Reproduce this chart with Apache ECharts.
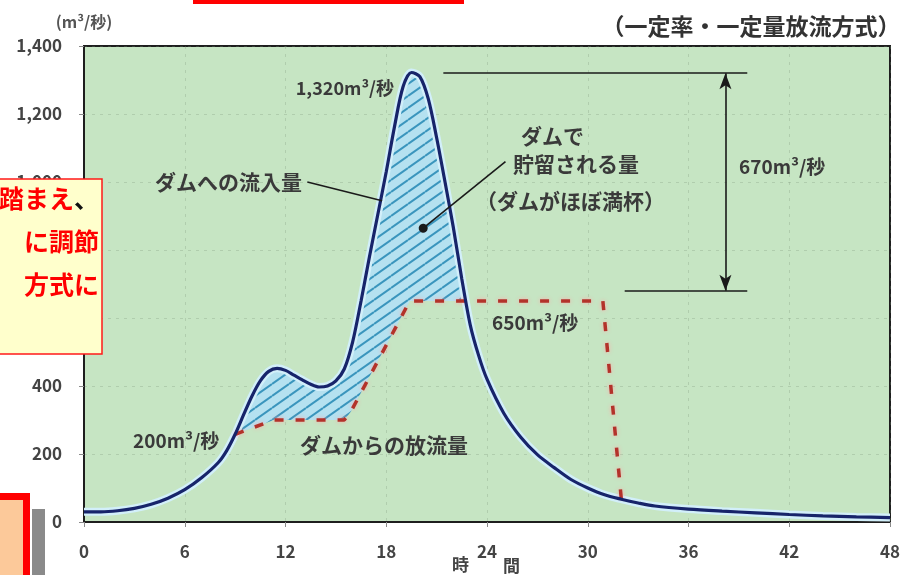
<!DOCTYPE html>
<html><head><meta charset="utf-8">
<script src="https://cdn.jsdelivr.net/npm/echarts/dist/echarts.min.js"></script>
<style>html,body{margin:0;padding:0;background:#fff}#c{width:904px;height:575px}</style>
</head><body><div id="c"></div>
<script>
// ---- data (hours, m3/s) ----
const inflowHours = [0,1,2,3,4,5,6,7,8,8.5,9,9.5,10,10.5,11,11.5,12,12.5,13,13.5,14,14.5,15,15.5,16,16.5,17,17.5,18,18.5,19,19.5,20,20.5,21,21.5,22,22.5,23,23.5,24,25,26,27,28,29,30,31,32,33,34,36,38,40,42,44,46,48];
const inflow = [30,30,33,40,52,70,95,130,175,210,258,315,370,415,443,452,446,432,418,405,397,400,415,450,530,650,780,905,1030,1165,1280,1322,1310,1245,1130,1000,865,715,580,490,420,320,250,198,160,125,100,80,67,56,47,38,32,27,22,18,15,13];
const outflowHours = [9.0,11.3,15.5,15.9,19.4,30.9,32.0];
const outflow = [258,300,300,325,650,650,67];
const xTicks = [0,6,12,18,24,30,36,42,48];
const yTicks = [0,200,400,600,800,1000,1200,1400];
// annotation anchors (data units)
const peakLine = [[21.4,1320],[39.5,1320]];
const lowLine = [[32.2,680],[39.5,680]];
const arrowLine = [[38.2,1320],[38.2,680]];
const inflowLeader = [[13.3,1000],[17.75,945]];
const storageLeader = [[20.2,864],[25.1,1060]];

const inflowPairs = inflowHours.map((h,i)=>[h,inflow[i]]);
const outflowPairs = outflowHours.map((h,i)=>[h,outflow[i]]);

// storage polygon between inflow and outflow
function outAt(t){
  for(let i=0;i<outflowHours.length-1;i++){
    const a=outflowHours[i], b=outflowHours[i+1];
    if(t>=a && t<=b) return outflow[i]+(outflow[i+1]-outflow[i])*(t-a)/(b-a);
  }
  return null;
}
const poly = [];
const tStart = outflowHours[0];
let tCross = null;
for(let i=0;i<inflowHours.length;i++){
  const t = inflowHours[i];
  if(t<tStart) continue;
  const o = outAt(t);
  if(o===null) break;
  if(inflow[i] < o){
    const t0=inflowHours[i-1], v0=inflow[i-1], v1=inflow[i];
    const o0=outAt(t0);
    const f=(v0-o0)/((v0-o0)-(v1-o));
    tCross = t0+(t-t0)*f;
    poly.push([tCross, outAt(tCross)]);
    break;
  }
  poly.push([t, inflow[i]]);
}
for(let i=outflowHours.length-1;i>=0;i--){
  if(outflowHours[i] < tCross) poly.push([outflowHours[i], outflow[i]]);
}

// hatch pattern
const pc = document.createElement('canvas');
pc.width = 17; pc.height = 12;
const g = pc.getContext('2d');
g.fillStyle = '#b5e1f0'; g.fillRect(0,0,17,12);
g.strokeStyle = '#3a95bd'; g.lineWidth = 2;
for(let k=-1;k<=1;k++){ g.beginPath(); g.moveTo(0,12+12*k); g.lineTo(17,12*k); g.stroke(); }

const FONT = '"Noto Sans CJK JP", "Noto Sans", sans-serif';
function T(text,x,y,size,o){
  return {type:'text', x:x, y:y, z:105, silent:true,
    style:Object.assign({text:text, fill:'#3a3a3a', font:'bold '+size+'px '+FONT,
      align:'left', verticalAlign:'middle', textAlign:'left', textVerticalAlign:'middle'}, o||{})};
}
function R(o){ return Object.assign({align:'right', textAlign:'right'}, o||{}); }
function C(o){ return Object.assign({align:'center', textAlign:'center'}, o||{}); }

const chart = echarts.init(document.getElementById('c'), null, {renderer:'canvas'});
const axisLabelStyle = {color:'#444', fontSize:17, fontWeight:'bold', fontFamily:FONT};
const option = {
  animation:false,
  backgroundColor:'#ffffff',
  grid:{left:84, right:14, top:46, bottom:53, show:true, backgroundColor:'#c6e5c3', borderColor:'#1e1e1e', borderWidth:2, containLabel:false},
  xAxis:{type:'value', min:xTicks[0], max:xTicks[xTicks.length-1], interval:6,
    axisLine:{show:true, onZero:false, lineStyle:{color:'#1e1e1e', width:2}},
    axisTick:{show:true, length:5, lineStyle:{color:'#8a8a8a'}},
    axisLabel:Object.assign({margin:21}, axisLabelStyle),
    splitLine:{show:true, lineStyle:{color:'rgba(120,145,120,0.28)', type:[3,5], width:1}}},
  yAxis:{type:'value', min:yTicks[0], max:yTicks[yTicks.length-1], interval:200,
    axisLine:{show:true, lineStyle:{color:'#1e1e1e', width:2}},
    axisTick:{show:true, length:5, lineStyle:{color:'#8a8a8a'}},
    axisLabel:Object.assign({margin:22, formatter:v=>v.toLocaleString('en-US')}, axisLabelStyle),
    splitLine:{show:true, lineStyle:{color:'rgba(120,145,120,0.28)', type:[3,5], width:1}}},
  series:[
    {type:'custom', z:1, clip:true, silent:true, data:[[0,0]], encode:{x:0,y:1},
      renderItem:function(params, api){
        const pts = poly.map(p=>api.coord(p));
        return {type:'polygon', shape:{points:pts}, style:{fill:{image:pc, repeat:'repeat'}, stroke:null}};
      }},
    {type:'line', z:2, data:inflowPairs, smooth:0.3, showSymbol:false, silent:true,
      lineStyle:{color:'#d2effa', width:8}},
    {type:'line', z:3, data:outflowPairs, showSymbol:false, silent:true,
      lineStyle:{color:'#b3322a', width:3.5, type:[9,12], shadowColor:'rgba(255,170,170,0.95)', shadowBlur:4}},
    {type:'line', z:4, data:inflowPairs, smooth:0.3, showSymbol:false, silent:true,
      lineStyle:{color:'#17246a', width:3.2},
      markLine:{silent:true, symbol:'none', label:{show:false}, animation:false,
        lineStyle:{color:'#1a1a1a', width:1.6, type:'solid'},
        data:[
          [{coord:peakLine[0]},{coord:peakLine[1]}],
          [{coord:lowLine[0]},{coord:lowLine[1]}],
          [{coord:arrowLine[0], symbol:'arrow', symbolSize:[9,16]},{coord:arrowLine[1], symbol:'arrow', symbolSize:[9,16]}],
          [{coord:inflowLeader[0]},{coord:inflowLeader[1]}],
          [{coord:storageLeader[0], symbol:'circle', symbolSize:9},{coord:storageLeader[1]}]
        ]}}
  ],
  graphic:[
    T('(m³/秒)', 84, 22, 16, C({fill:'#555'})),
    T('（一定率・一定量放流方式）', 751, 26, 23, C({fill:'#333'})),
    T('1,320m³/秒', 394, 88, 18, R()),
    T('ダムへの流入量', 302, 182, 21, R()),
    T('ダムで', 521, 136, 21),
    T('貯留される量', 513, 164, 21),
    T('（ダムがほぼ満杯）', 476, 201, 21),
    T('670m³/秒', 739, 167, 19),
    T('650m³/秒', 492, 323, 19),
    T('200m³/秒', 133, 441, 19),
    T('ダムからの放流量', 300, 445, 21),
    T('時', 452, 565, 17, {fill:'#444'}),
    T('間', 503, 566, 17, {fill:'#444'}),
    // overlays from the source screenshot
    {type:'rect', z:110, silent:true, shape:{x:193, y:0, width:271, height:4}, style:{fill:'#ff0000'}},
    {type:'rect', z:110, silent:true, shape:{x:-6, y:179, width:108, height:175}, style:{fill:'#ffffcc', stroke:'#ff1a1a', lineWidth:1.5}},
    {type:'text', z:111, silent:true, x:99, y:198,
      style:{text:'踏まえ{k|、}', fill:'#ff0000', font:'bold 25px '+FONT, align:'right', verticalAlign:'middle', textAlign:'right', textVerticalAlign:'middle',
        rich:{k:{fill:'#111', font:'bold 25px '+FONT}}}},
    {type:'text', z:111, silent:true, x:99, y:241,
      style:{text:'に調節', fill:'#ff0000', font:'bold 25px '+FONT, align:'right', verticalAlign:'middle', textAlign:'right', textVerticalAlign:'middle'}},
    {type:'text', z:111, silent:true, x:99, y:284,
      style:{text:'方式に', fill:'#ff0000', font:'bold 25px '+FONT, align:'right', verticalAlign:'middle', textAlign:'right', textVerticalAlign:'middle'}},
    {type:'rect', z:110, silent:true, shape:{x:-10, y:496.5, width:36.5, height:90}, style:{fill:'#fcc99a', stroke:'#ff0000', lineWidth:7}},
    {type:'rect', z:110, silent:true, shape:{x:32, y:509, width:13, height:70}, style:{fill:'#8a8a8a'}}
  ]
};
chart.setOption(option);
</script>
</body></html>
